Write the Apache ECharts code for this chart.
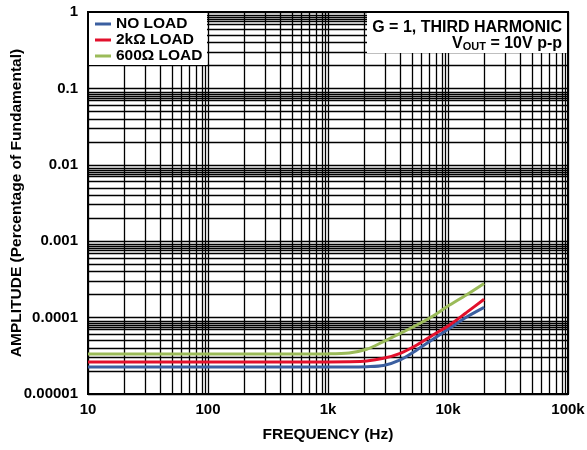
<!DOCTYPE html>
<html>
<head>
<meta charset="utf-8">
<script src="https://cdn.jsdelivr.net/npm/echarts@6/dist/echarts.min.js"></script>
<style>
  html, body { margin: 0; padding: 0; background: #fff; }
  #chart { width: 587px; height: 450px; }
</style>
</head>
<body>
<div id="chart"></div>
<script>
// frequency points (Hz)
var freqHz = [10, 20, 50, 100, 200, 500, 1000, 1500, 2100, 2900, 4000, 5500, 7500, 10300, 14200, 20000];
// amplitude, % of fundamental
var noLoad  = [2.26e-5, 2.26e-5, 2.26e-5, 2.26e-5, 2.26e-5, 2.26e-5, 2.26e-5, 2.26e-5, 2.28e-5, 2.36e-5, 2.79e-5, 3.77e-5, 5.2e-5, 7.24e-5, 1.01e-4, 1.36e-4];
var load2k  = [2.63e-5, 2.63e-5, 2.63e-5, 2.63e-5, 2.63e-5, 2.63e-5, 2.63e-5, 2.64e-5, 2.7e-5, 2.93e-5, 3.41e-5, 4.38e-5, 5.92e-5, 8.0e-5, 1.16e-4, 1.74e-4];
var load600 = [3.33e-5, 3.33e-5, 3.33e-5, 3.33e-5, 3.33e-5, 3.33e-5, 3.35e-5, 3.45e-5, 3.85e-5, 4.85e-5, 6.2e-5, 8.0e-5, 1.05e-4, 1.46e-4, 1.98e-4, 2.8e-4];

var seriesNames = ['NO LOAD', '2kΩ LOAD', '600Ω LOAD'];
var seriesColors = ['#3b5fa0', '#e2102c', '#9bbb59'];

var xTickLabels = ['10', '100', '1k', '10k', '100k'];   // 1e1 .. 1e5
var yTickLabels = ['0.00001', '0.0001', '0.001', '0.01', '0.1', '1'];   // 1e-5 .. 1e0

// grid line multipliers inside each decade
var xMinorSteps = [2, 3, 4, 5, 6, 7, 8, 9, 9.5];
var yMinorSteps = [2, 3, 4, 5, 6, 7, 7.5, 8, 8.5, 9];

var fontFam = 'Arial, "Liberation Sans", sans-serif';

function pairs(vals) {
    return freqHz.map(function (f, i) { return [f, vals[i]]; });
}

// grid lines (decades + minor) as mark lines
var gridLines = [];
for (var dx = 1; dx <= 5; dx++) {
    gridLines.push({ xAxis: Math.pow(10, dx) });
    if (dx < 5) {
        xMinorSteps.forEach(function (m) { gridLines.push({ xAxis: m * Math.pow(10, dx) }); });
    }
}
for (var dy = -5; dy <= 0; dy++) {
    gridLines.push({ yAxis: Math.pow(10, dy) });
    if (dy < 0) {
        yMinorSteps.forEach(function (m) { gridLines.push({ yAxis: m * Math.pow(10, dy) }); });
    }
}

var myChart = echarts.init(document.getElementById('chart'));

var option = {
    animation: false,
    backgroundColor: '#fff',
    textStyle: { fontFamily: fontFam },
    grid: {
        left: 88, right: 19, top: 12, bottom: 56,
        containLabel: false, outerBoundsMode: 'none',
        show: true, borderColor: '#000', borderWidth: 2, backgroundColor: '#fff'
    },
    title: {
        left: 562, top: 20,
        padding: 0,
        z: 200,
        textAlign: 'right',
        text: '{a|G = 1, THIRD HARMONIC}\n{a|V}{s|OUT}{a| = 10V p-p}',
        textStyle: {
            align: 'right',
            rich: {
                a: { fontSize: 16, fontWeight: 'bold', color: '#000', fontFamily: fontFam, lineHeight: 15 },
                s: { fontSize: 11, fontWeight: 'bold', color: '#000', fontFamily: fontFam, padding: [6, 0, 0, 0] }
            }
        }
    },
    legend: {
        orient: 'vertical',
        left: 95, top: 16,
        padding: 0,
        itemGap: 0,
        icon: 'rect',
        itemWidth: 16, itemHeight: 3,
        z: 200,
        data: seriesNames,
        textStyle: { fontSize: 15.5, fontWeight: 'bold', color: '#000', fontFamily: fontFam, lineHeight: 15.5 }
    },
    graphic: [
        { type: 'rect', z: 100, shape: { x: 89, y: 13, width: 118, height: 52 }, style: { fill: '#fff' } },
        { type: 'rect', z: 100, shape: { x: 367, y: 13, width: 200, height: 40 }, style: { fill: '#fff' } }
    ],
    xAxis: {
        type: 'log', logBase: 10, min: 10, max: 100000,
        name: 'FREQUENCY (Hz)', nameLocation: 'middle', nameGap: 33, nameMoveOverlap: false,
        nameTextStyle: { fontSize: 15.5, fontWeight: 'bold', color: '#000' },
        axisLine: { show: false },
        axisTick: { show: false },
        splitLine: { show: false },
        axisLabel: {
            margin: 8, fontSize: 15, fontWeight: 'bold', color: '#000',
            formatter: function (v) { return xTickLabels[Math.round(Math.log10(v)) - 1]; }
        }
    },
    yAxis: {
        type: 'log', logBase: 10, min: 0.00001, max: 1,
        name: 'AMPLITUDE (Percentage of Fundamental)', nameLocation: 'middle', nameGap: 63, nameMoveOverlap: false,
        nameTextStyle: { fontSize: 15.5, fontWeight: 'bold', color: '#000' },
        axisLine: { show: false },
        axisTick: { show: false },
        splitLine: { show: false },
        axisLabel: {
            margin: 10, fontSize: 15, fontWeight: 'bold', color: '#000',
            formatter: function (v) { return yTickLabels[Math.round(Math.log10(v)) + 5]; }
        }
    },
    series: [
        {
            type: 'line', name: '_grid', data: [], silent: true, z: 1,
            markLine: {
                z: 1, silent: true, symbol: 'none', animation: false,
                precision: 12,
                label: { show: false },
                lineStyle: { color: '#000', width: 1.3, type: 'solid' },
                emphasis: { disabled: true },
                data: gridLines
            }
        },
        {
            type: 'line', name: seriesNames[0], data: pairs(noLoad), z: 10,
            symbol: 'none', smooth: 0.3, color: seriesColors[0],
            lineStyle: { width: 3, color: seriesColors[0] }
        },
        {
            type: 'line', name: seriesNames[1], data: pairs(load2k), z: 10,
            symbol: 'none', smooth: 0.3, color: seriesColors[1],
            lineStyle: { width: 3, color: seriesColors[1] }
        },
        {
            type: 'line', name: seriesNames[2], data: pairs(load600), z: 10,
            symbol: 'none', smooth: 0.3, color: seriesColors[2],
            lineStyle: { width: 3, color: seriesColors[2] }
        }
    ]
};

myChart.setOption(option);
</script>
</body>
</html>
